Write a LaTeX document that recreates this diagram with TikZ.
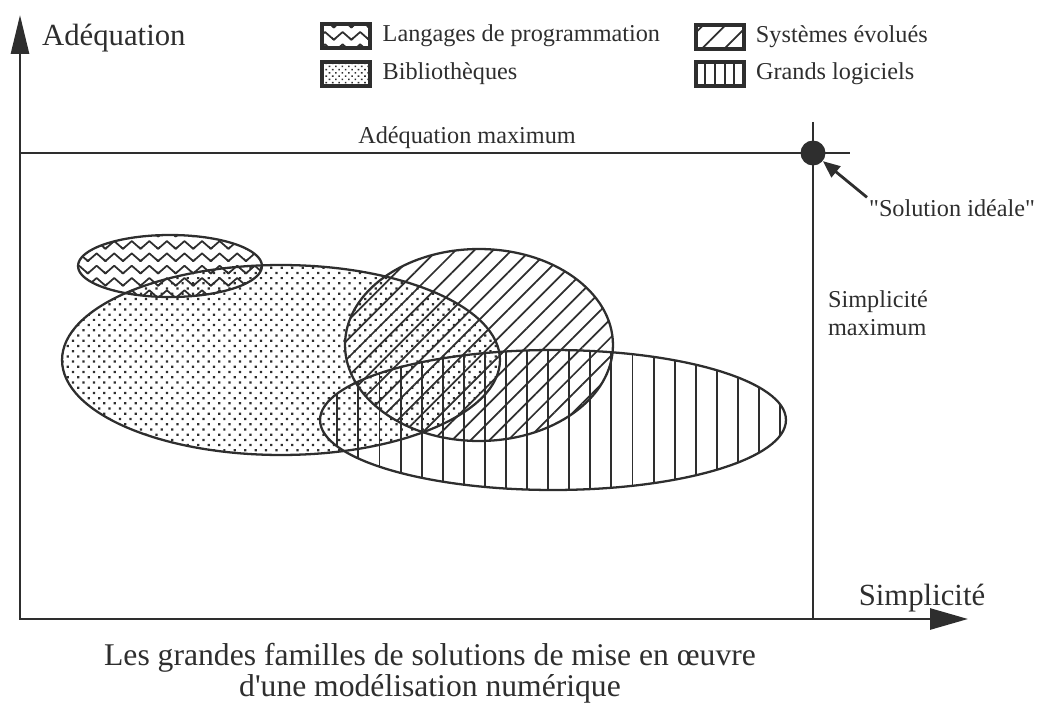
\documentclass[tikz,border=0pt]{standalone}
\usepackage{fontspec}
\setmainfont{Liberation Serif}
\usetikzlibrary{arrows.meta, positioning, shapes.geometric, patterns.meta}
\definecolor{ink}{HTML}{2E2E2E}

% wavy fill for the programming languages
\pgfdeclarepatternformonly{wavelines}{\pgfpoint{-1pt}{0pt}}{\pgfpoint{11pt}{7pt}}{\pgfpoint{10pt}{7pt}}{%
  \pgfsetlinewidth{1pt}\pgfsetroundjoin
  \pgfpathmoveto{\pgfpoint{-2.5pt}{3.4pt}}
  \pgfpathlineto{\pgfpoint{0pt}{1.2pt}}
  \pgfpathlineto{\pgfpoint{5pt}{5.6pt}}
  \pgfpathlineto{\pgfpoint{10pt}{1.2pt}}
  \pgfpathlineto{\pgfpoint{12.5pt}{3.4pt}}
  \pgfusepath{stroke}}

\begin{document}
\begin{tikzpicture}[x=0.02cm, y=-0.02cm, line join=miter,
  axis/.style={ink, line width=1.6pt, {Triangle[length=0.78cm, width=0.36cm]}-{Triangle[length=0.76cm, width=0.42cm]}},
  maxline/.style={ink, line width=1.5pt},
  region/.style={ellipse, draw=ink, line width=1.3pt, inner sep=0pt, pattern color=ink},
  dotted fill/.style={pattern={Dots[distance=4.2pt, angle=45, radius=0.9pt]}},
  hatch fill/.style={pattern={Lines[angle=45, distance=#1, line width=1pt]}},
  bar fill/.style={pattern={Lines[angle=90, distance=#1, line width=1.1pt]}},
  swatch/.style={draw=ink, line width=1.8pt, inner sep=0pt, pattern color=ink,
                 minimum width=0.96cm, minimum height=0.48cm},
  legtext/.style={font=\fontsize{13.8}{16}\selectfont, text=ink, inner sep=1pt},
  lbl/.style={font=\fontsize{13.8}{15.5}\selectfont, text=ink, inner sep=1pt},
  biglbl/.style={font=\fontsize{17.5}{20}\selectfont, text=ink, inner sep=1pt},
  pointer/.style={ink, line width=1.6pt, -{Triangle[length=0.34cm, width=0.28cm]}}
]
\useasboundingbox (0,0) rectangle (1042,706);

% Regions
\node[region, dotted fill, minimum width=8.76cm, minimum height=3.8cm] (biblio) at (281,360) {};
\node[region, bar fill=12pt, minimum width=9.32cm, minimum height=2.8cm] (grands) at (553,420) {};
\node[region, hatch fill=7.5pt, minimum width=5.36cm, minimum height=3.84cm] (systemes) at (479,345) {};
\node[region, pattern=wavelines, minimum width=3.68cm, minimum height=1.24cm] (langages) at (170,266) {};

% Axes
\coordinate (origin) at (20,619);
\coordinate (ytop) at (20,15);
\coordinate (xend) at (968,619);
\draw[axis] (ytop) |- (xend);
\node[biglbl, anchor=west] (adeq) at (40,38) {Adéquation};
\node[biglbl] (simpl) at (922,598) {Simplicité};

% Maximum lines and ideal solution
\node[circle, fill=ink, inner sep=0pt, minimum size=0.5cm] (ideal) at (813,153) {};
\coordinate (amaxL) at (20,153);
\coordinate (amaxR) at (850,153);
\coordinate (smaxT) at (813,122);
\draw[maxline] (amaxL) -- (amaxR);
\draw[maxline] (smaxT) -- (ideal.center |- origin);
\node[lbl] (amax) at (467,138) {Adéquation maximum};
\node[lbl, anchor=north west, align=left] (smax) at (826,289) {Simplicité\\maximum};
\node[lbl, anchor=west] (sol) at (867,208) {\textquotedbl Solution idéale\textquotedbl};
\draw[pointer] (sol.north west) -- (ideal);

% Legend
\node[swatch, pattern=wavelines] (kLang) at (346,36) {};
\node[legtext, right=0.18cm of kLang] (tLang) {Langages de programmation};
\node[swatch, pattern={Dots[distance=2.6pt, angle=45, radius=0.65pt]}] (kBib) at (346,74) {};
\node[legtext, right=0.18cm of kBib] (tBib) {Bibliothèques};
\node[swatch, hatch fill=9pt] (kSys) at (720,37) {};
\node[legtext, right=0.18cm of kSys] (tSys) {Systèmes évolués};
\node[swatch, bar fill=5.5pt] (kGl) at (720,74) {};
\node[legtext, right=0.18cm of kGl] (tGl) {Grands logiciels};

% Caption
\node[font=\fontsize{18}{15}\selectfont, text=ink, align=center] (caption) at (430,673)
  {Les grandes familles de solutions de mise en œuvre\\d\textquotesingle une modélisation numérique};

\end{tikzpicture}
\end{document}
